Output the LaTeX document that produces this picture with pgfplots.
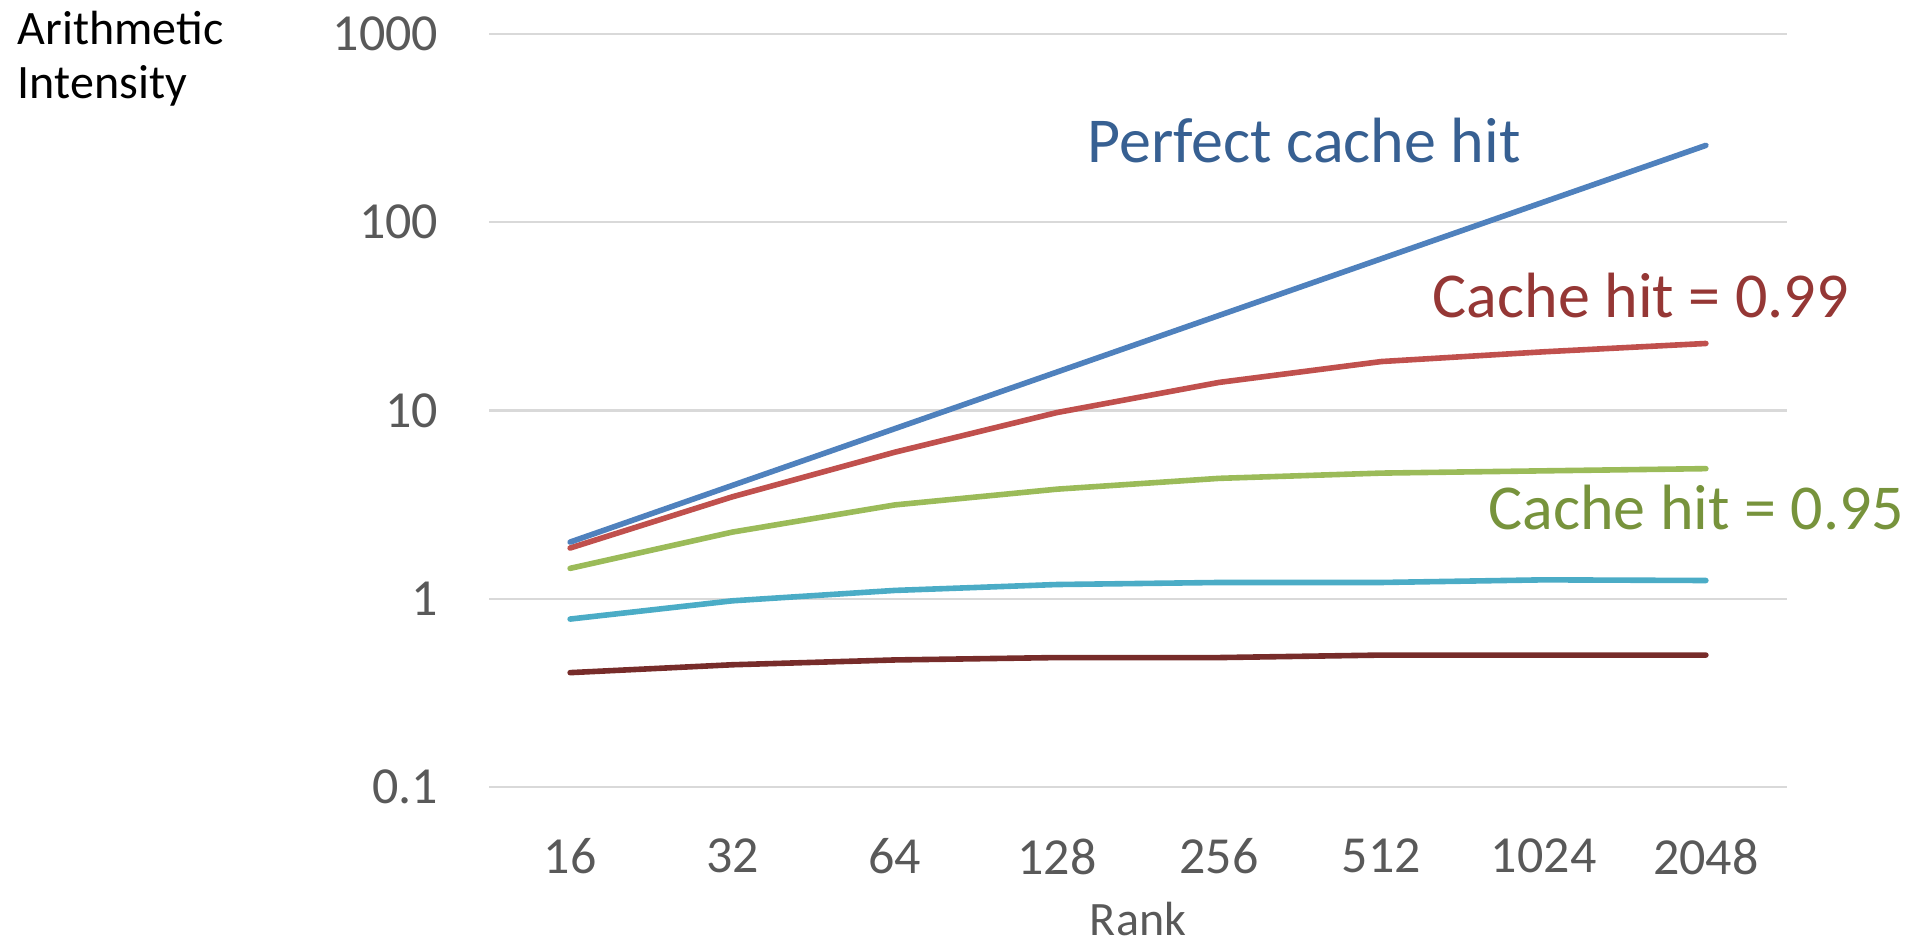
\documentclass[border=0pt]{standalone}
\usepackage{fontspec}
\setmainfont{Carlito}
\newfontfamily\labelfont{Carlito}
\usepackage{pgfplots}
\pgfplotsset{compat=1.18}
\definecolor{cblue}{HTML}{4F81BD}
\definecolor{cred}{HTML}{C0504D}
\definecolor{cgreen}{HTML}{9BBB59}
\definecolor{ccyan}{HTML}{4BACC6}
\definecolor{cdark}{HTML}{772C2A}
\definecolor{tblue}{HTML}{376092}
\definecolor{tred}{HTML}{953735}
\definecolor{tgreen}{HTML}{77933C}
\definecolor{gridgray}{HTML}{D9D9D9}
\definecolor{labgray}{HTML}{595959}
\begin{document}
\begin{tikzpicture}
\path[use as bounding box] (0,0) rectangle (477.25pt,235.5pt);
\begin{axis}[
  at={(122.25pt,38.75pt)}, anchor=south west,
  scale only axis, width=324.5pt, height=188.25pt,
  xmin=-0.5, xmax=7.5, ymode=log, ymin=0.1, ymax=1000,
  xtick={0,1,2,3,4,5,6,7}, xticklabels={16,32,64,128,256,512,1024,2048},
  ytick={0.1,1,10,100,1000}, yticklabels={0.1,1,10,100,1000},
  yminorticks=false,
  ymajorgrids, major grid style={color=gridgray, line width=0.6pt},
  axis line style={draw=none}, tick style={draw=none}, major tick length=0pt,
  ticklabel style={font=\fontsize{13}{15}\selectfont, text=labgray},
  yticklabel style={anchor=east, inner sep=0pt, xshift=-12.5pt},
  xticklabel style={anchor=north, inner sep=0pt, yshift=-12.75pt},
  clip=false,
  every axis plot/.append style={line width=1.4pt, line cap=round, line join=round, mark=none},
]
\addplot[cdark] coordinates {(0,0.405) (1,0.446) (2,0.473) (3,0.487) (4,0.487) (5,0.502) (6,0.502) (7,0.502)};
\addplot[ccyan] coordinates {(0,0.78) (1,0.975) (2,1.107) (3,1.19) (4,1.22) (5,1.22) (6,1.26) (7,1.25)};
\addplot[cgreen] coordinates {(0,1.45) (1,2.26) (2,3.15) (3,3.82) (4,4.36) (5,4.65) (6,4.78) (7,4.91)};
\addplot[cred] coordinates {(0,1.86) (1,3.48) (2,6.0) (3,9.75) (4,14.1) (5,18.2) (6,20.5) (7,22.7)};
\addplot[cblue] coordinates {(0,2) (1,4) (2,8) (3,16) (4,32) (5,64) (6,128) (7,256)};
\end{axis}
\node[anchor=base west, inner sep=0pt, font=\fontsize{12}{14}\selectfont] at (4.25pt,224.25pt) {Arithmetic};
\node[anchor=base west, inner sep=0pt, font=\fontsize{12}{14}\selectfont] at (4.25pt,210.75pt) {Intensity};
\node[anchor=base, inner sep=0pt, font=\fontsize{12}{14}\selectfont, text=labgray] at (284.5pt,1.6pt) {Rank};
\node[anchor=base west, inner sep=0pt, font=\labelfont\fontsize{16}{19}\selectfont, text=tblue] at (271.75pt,194.8pt) {Perfect cache hit};
\node[anchor=base west, inner sep=0pt, font=\labelfont\fontsize{16}{19}\selectfont, text=tred] at (358pt,156pt) {Cache hit = 0.99};
\node[anchor=base west, inner sep=0pt, font=\labelfont\fontsize{16}{19}\selectfont, text=tgreen] at (371.9pt,103pt) {Cache hit = 0.95};
\end{tikzpicture}
\end{document}
